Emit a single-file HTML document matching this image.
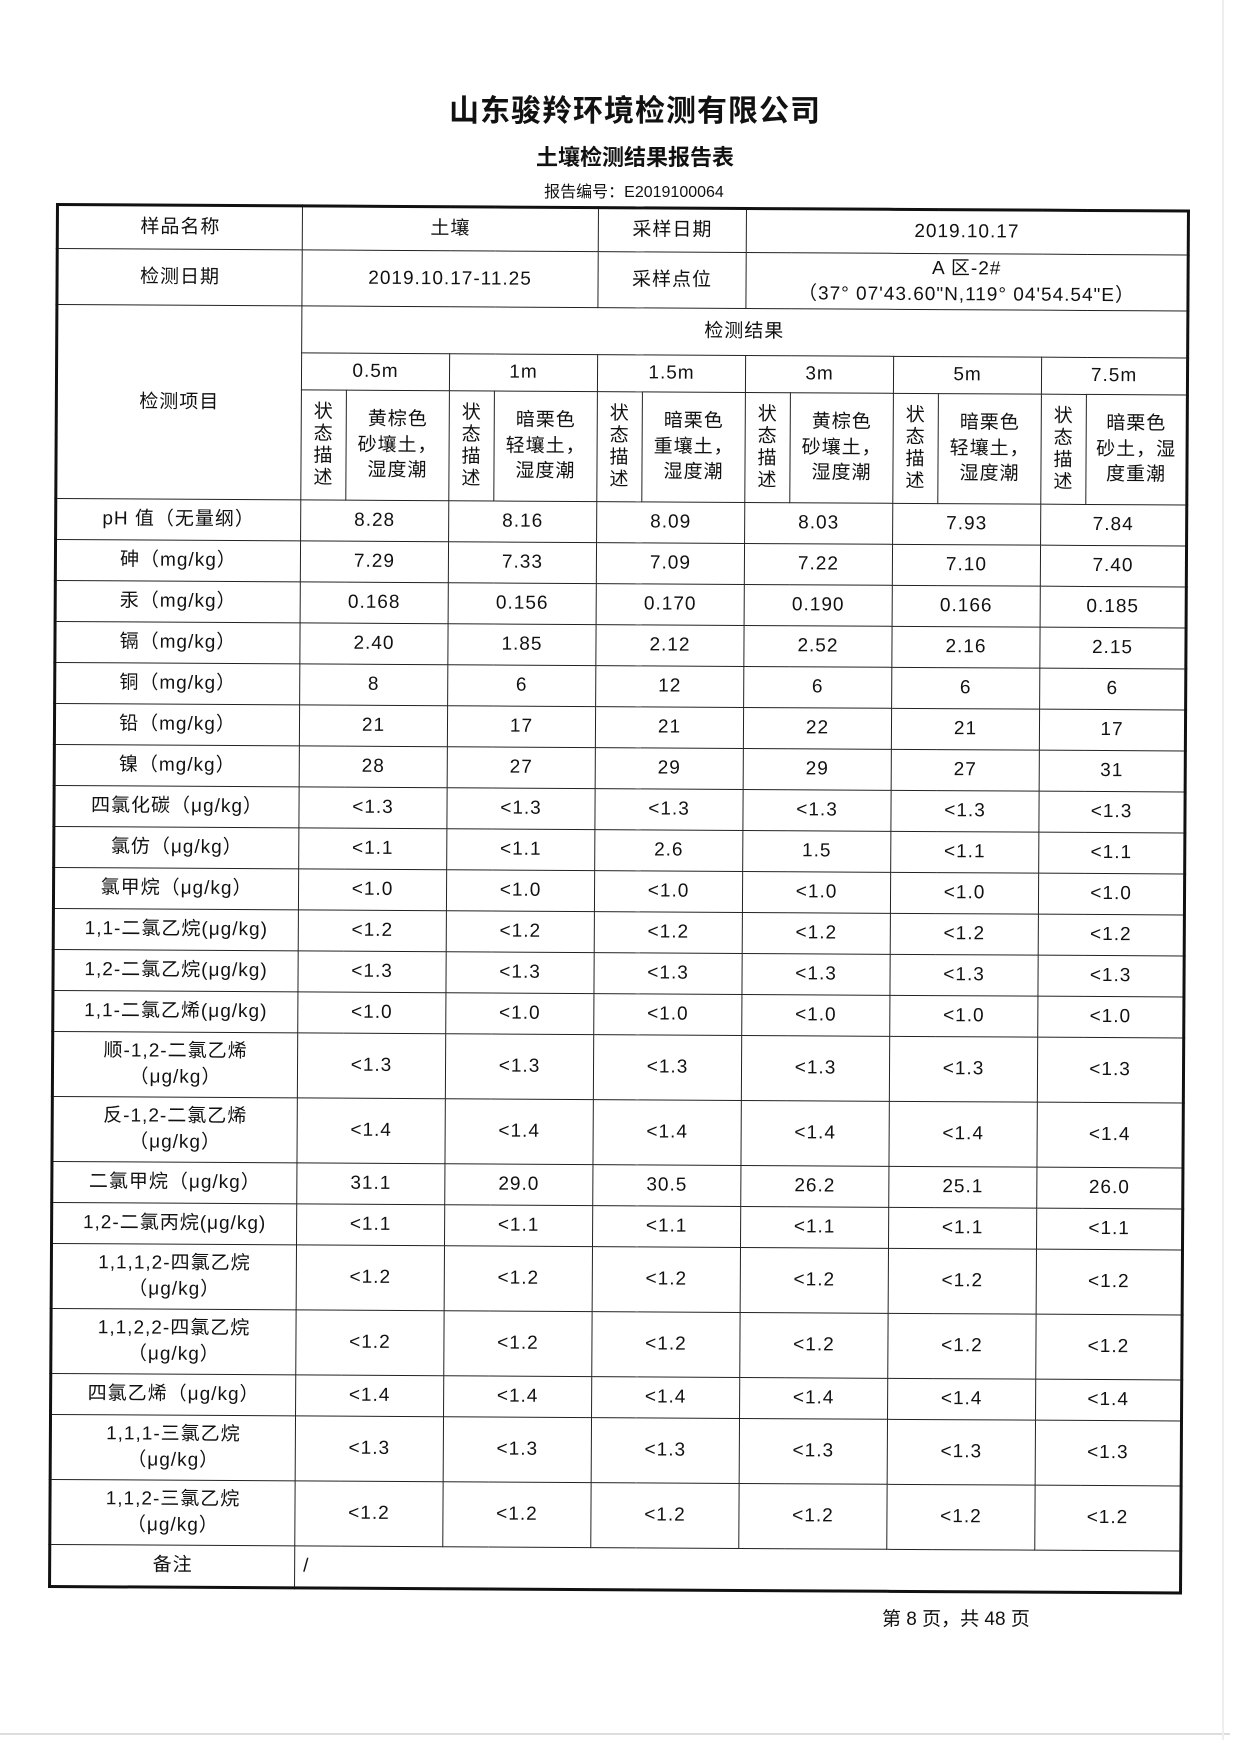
<!DOCTYPE html>
<html><head><meta charset="utf-8">
<style>
html,body{margin:0;padding:0;background:#fff;}
body{width:1240px;height:1753px;position:relative;overflow:hidden;font-family:"Liberation Sans","Noto Sans CJK SC",sans-serif;color:#111;}
.t1{position:absolute;left:0;width:1270px;top:86px;text-align:center;font-size:30px;font-weight:bold;letter-spacing:1px;}
.t2{position:absolute;left:0;width:1270px;top:140px;text-align:center;font-size:22px;font-weight:bold;}
.t3{position:absolute;left:0;width:1268px;top:178px;text-align:center;font-size:16px;}
.wrap{position:absolute;left:56px;top:203px;transform:rotate(0.33deg);transform-origin:0 0;}
table{border-collapse:collapse;table-layout:fixed;width:1131px;border:3px solid #111;}
td{border:1px solid #222;text-align:center;vertical-align:middle;font-size:19px;padding:0;line-height:1.35;letter-spacing:1px;}
.v{line-height:22px;font-size:19px;}
.s td{height:40px;}
.d td{height:64px;}
.foot{position:absolute;left:882px;top:1604px;font-size:19px;}
.gl{position:absolute;left:0;top:1733px;width:1230px;height:2px;background:#ddd;}
.gr{position:absolute;left:1222px;top:0;width:2px;height:1740px;background:#eee;}
</style></head><body>
<div class="t1">山东骏羚环境检测有限公司</div>
<div class="t2">土壤检测结果报告表</div>
<div class="t3">报告编号：E2019100064</div>
<div class="wrap">
<table>
<colgroup><col style="width:245px">
<col style="width:45px"><col style="width:103px"><col style="width:45px"><col style="width:103px"><col style="width:45px"><col style="width:103px"><col style="width:45px"><col style="width:103px"><col style="width:45px"><col style="width:103px"><col style="width:45px"><col style="width:101px">
</colgroup>
<tr style="height:44px"><td>样品名称</td><td colspan="4">土壤</td><td colspan="2">采样日期</td><td colspan="6">2019.10.17</td></tr>
<tr style="height:56px"><td>检测日期</td><td colspan="4">2019.10.17-11.25</td><td colspan="2">采样点位</td><td colspan="6">A 区-2#<br>（37° 07'43.60"N,119° 04'54.54"E）</td></tr>
<tr style="height:47px"><td rowspan="3">检测项目</td><td colspan="12">检测结果</td></tr>
<tr style="height:37px"><td colspan="2">0.5m</td><td colspan="2">1m</td><td colspan="2">1.5m</td><td colspan="2">3m</td><td colspan="2">5m</td><td colspan="2">7.5m</td></tr>
<tr style="height:110px">
<td class="v">状<br>态<br>描<br>述</td><td>黄棕色<br>砂壤土，<br>湿度潮</td>
<td class="v">状<br>态<br>描<br>述</td><td>暗栗色<br>轻壤土，<br>湿度潮</td>
<td class="v">状<br>态<br>描<br>述</td><td>暗栗色<br>重壤土，<br>湿度潮</td>
<td class="v">状<br>态<br>描<br>述</td><td>黄棕色<br>砂壤土，<br>湿度潮</td>
<td class="v">状<br>态<br>描<br>述</td><td>暗栗色<br>轻壤土，<br>湿度潮</td>
<td class="v">状<br>态<br>描<br>述</td><td>暗栗色<br>砂土，湿<br>度重潮</td></tr>
<tr class="s"><td>pH 值（无量纲）</td><td colspan="2">8.28</td><td colspan="2">8.16</td><td colspan="2">8.09</td><td colspan="2">8.03</td><td colspan="2">7.93</td><td colspan="2">7.84</td></tr>
<tr class="s"><td>砷（mg/kg）</td><td colspan="2">7.29</td><td colspan="2">7.33</td><td colspan="2">7.09</td><td colspan="2">7.22</td><td colspan="2">7.10</td><td colspan="2">7.40</td></tr>
<tr class="s"><td>汞（mg/kg）</td><td colspan="2">0.168</td><td colspan="2">0.156</td><td colspan="2">0.170</td><td colspan="2">0.190</td><td colspan="2">0.166</td><td colspan="2">0.185</td></tr>
<tr class="s"><td>镉（mg/kg）</td><td colspan="2">2.40</td><td colspan="2">1.85</td><td colspan="2">2.12</td><td colspan="2">2.52</td><td colspan="2">2.16</td><td colspan="2">2.15</td></tr>
<tr class="s"><td>铜（mg/kg）</td><td colspan="2">8</td><td colspan="2">6</td><td colspan="2">12</td><td colspan="2">6</td><td colspan="2">6</td><td colspan="2">6</td></tr>
<tr class="s"><td>铅（mg/kg）</td><td colspan="2">21</td><td colspan="2">17</td><td colspan="2">21</td><td colspan="2">22</td><td colspan="2">21</td><td colspan="2">17</td></tr>
<tr class="s"><td>镍（mg/kg）</td><td colspan="2">28</td><td colspan="2">27</td><td colspan="2">29</td><td colspan="2">29</td><td colspan="2">27</td><td colspan="2">31</td></tr>
<tr class="s"><td>四氯化碳（μg/kg）</td><td colspan="2">&lt;1.3</td><td colspan="2">&lt;1.3</td><td colspan="2">&lt;1.3</td><td colspan="2">&lt;1.3</td><td colspan="2">&lt;1.3</td><td colspan="2">&lt;1.3</td></tr>
<tr class="s"><td>氯仿（μg/kg）</td><td colspan="2">&lt;1.1</td><td colspan="2">&lt;1.1</td><td colspan="2">2.6</td><td colspan="2">1.5</td><td colspan="2">&lt;1.1</td><td colspan="2">&lt;1.1</td></tr>
<tr class="s"><td>氯甲烷（μg/kg）</td><td colspan="2">&lt;1.0</td><td colspan="2">&lt;1.0</td><td colspan="2">&lt;1.0</td><td colspan="2">&lt;1.0</td><td colspan="2">&lt;1.0</td><td colspan="2">&lt;1.0</td></tr>
<tr class="s"><td>1,1-二氯乙烷(μg/kg)</td><td colspan="2">&lt;1.2</td><td colspan="2">&lt;1.2</td><td colspan="2">&lt;1.2</td><td colspan="2">&lt;1.2</td><td colspan="2">&lt;1.2</td><td colspan="2">&lt;1.2</td></tr>
<tr class="s"><td>1,2-二氯乙烷(μg/kg)</td><td colspan="2">&lt;1.3</td><td colspan="2">&lt;1.3</td><td colspan="2">&lt;1.3</td><td colspan="2">&lt;1.3</td><td colspan="2">&lt;1.3</td><td colspan="2">&lt;1.3</td></tr>
<tr class="s"><td>1,1-二氯乙烯(μg/kg)</td><td colspan="2">&lt;1.0</td><td colspan="2">&lt;1.0</td><td colspan="2">&lt;1.0</td><td colspan="2">&lt;1.0</td><td colspan="2">&lt;1.0</td><td colspan="2">&lt;1.0</td></tr>
<tr class="d"><td>顺-1,2-二氯乙烯<br>（μg/kg）</td><td colspan="2">&lt;1.3</td><td colspan="2">&lt;1.3</td><td colspan="2">&lt;1.3</td><td colspan="2">&lt;1.3</td><td colspan="2">&lt;1.3</td><td colspan="2">&lt;1.3</td></tr>
<tr class="d"><td>反-1,2-二氯乙烯<br>（μg/kg）</td><td colspan="2">&lt;1.4</td><td colspan="2">&lt;1.4</td><td colspan="2">&lt;1.4</td><td colspan="2">&lt;1.4</td><td colspan="2">&lt;1.4</td><td colspan="2">&lt;1.4</td></tr>
<tr class="s"><td>二氯甲烷（μg/kg）</td><td colspan="2">31.1</td><td colspan="2">29.0</td><td colspan="2">30.5</td><td colspan="2">26.2</td><td colspan="2">25.1</td><td colspan="2">26.0</td></tr>
<tr class="s"><td>1,2-二氯丙烷(μg/kg)</td><td colspan="2">&lt;1.1</td><td colspan="2">&lt;1.1</td><td colspan="2">&lt;1.1</td><td colspan="2">&lt;1.1</td><td colspan="2">&lt;1.1</td><td colspan="2">&lt;1.1</td></tr>
<tr class="d"><td>1,1,1,2-四氯乙烷<br>（μg/kg）</td><td colspan="2">&lt;1.2</td><td colspan="2">&lt;1.2</td><td colspan="2">&lt;1.2</td><td colspan="2">&lt;1.2</td><td colspan="2">&lt;1.2</td><td colspan="2">&lt;1.2</td></tr>
<tr class="d"><td>1,1,2,2-四氯乙烷<br>（μg/kg）</td><td colspan="2">&lt;1.2</td><td colspan="2">&lt;1.2</td><td colspan="2">&lt;1.2</td><td colspan="2">&lt;1.2</td><td colspan="2">&lt;1.2</td><td colspan="2">&lt;1.2</td></tr>
<tr class="s"><td>四氯乙烯（μg/kg）</td><td colspan="2">&lt;1.4</td><td colspan="2">&lt;1.4</td><td colspan="2">&lt;1.4</td><td colspan="2">&lt;1.4</td><td colspan="2">&lt;1.4</td><td colspan="2">&lt;1.4</td></tr>
<tr class="d"><td>1,1,1-三氯乙烷<br>（μg/kg）</td><td colspan="2">&lt;1.3</td><td colspan="2">&lt;1.3</td><td colspan="2">&lt;1.3</td><td colspan="2">&lt;1.3</td><td colspan="2">&lt;1.3</td><td colspan="2">&lt;1.3</td></tr>
<tr class="d"><td>1,1,2-三氯乙烷<br>（μg/kg）</td><td colspan="2">&lt;1.2</td><td colspan="2">&lt;1.2</td><td colspan="2">&lt;1.2</td><td colspan="2">&lt;1.2</td><td colspan="2">&lt;1.2</td><td colspan="2">&lt;1.2</td></tr>
<tr class="s"><td>备注</td><td colspan="12" style="text-align:left;padding-left:8px;">/</td></tr>
</table>
</div>
<div class="foot">第 8 页，共 48 页</div>
<div class="gl"></div>
<div class="gr"></div>
</body></html>
